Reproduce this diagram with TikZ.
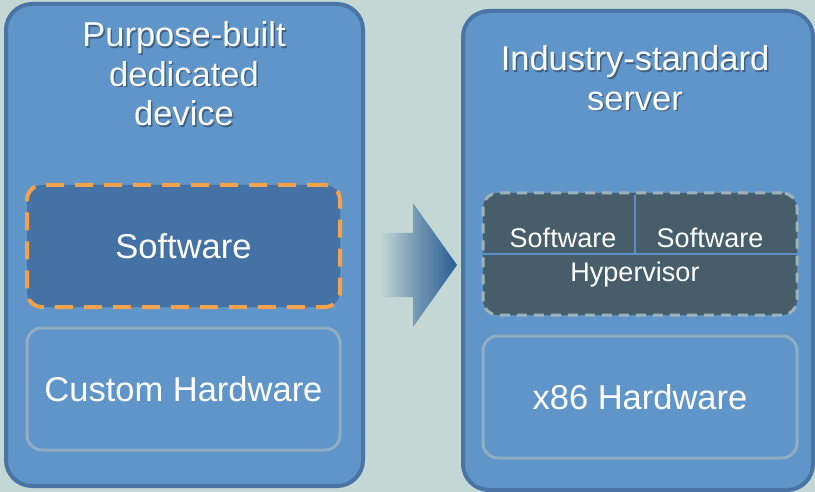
\documentclass[tikz,border=0pt]{standalone}
\usepackage{fontspec}
\setmainfont{Liberation Sans}
\usetikzlibrary{positioning}

\definecolor{bgcol}{HTML}{C3D7D4}
\definecolor{panelfill}{HTML}{6095C9}
\definecolor{panelline}{HTML}{4A74A3}
\definecolor{swfill}{HTML}{4572A4}
\definecolor{orangedash}{HTML}{F5A04A}
\definecolor{hwline}{HTML}{8FAEC3}
\definecolor{vmfill}{HTML}{475E6A}
\definecolor{vmdash}{HTML}{9EB2BC}
\definecolor{splitline}{HTML}{5A8FC8}
\definecolor{arrowdark}{HTML}{2A5D94}

\tikzset{
  panel/.style={draw=panelline, line width=4pt, fill=panelfill, rounded corners=26pt,
    inner sep=0pt},
  swbox/.style={draw=orangedash, line width=4pt, dash pattern=on 18pt off 11pt,
    fill=swfill, rounded corners=15pt, inner sep=0pt, minimum width=313pt,
    minimum height=122pt, text=white, font=\fontsize{34.5}{40}\selectfont},
  hwbox/.style={draw=hwline, line width=3pt, fill=panelfill, rounded corners=15pt,
    inner sep=0pt, minimum width=313pt, minimum height=122pt, text=white,
    font=\fontsize{34.5}{40}\selectfont},
  vmbox/.style={draw=vmdash, line width=3pt, dash pattern=on 10pt off 7pt,
    fill=vmfill, rounded corners=15pt, inner sep=0pt, minimum width=314pt,
    minimum height=122pt},
  title/.style={text=white, align=center, inner sep=0pt,
    font=\fontsize{34.5}{39.5}\selectfont},
  titleshadow/.style={title, text=black, opacity=0.35},
  small/.style={text=white, inner sep=0pt, font=\fontsize{27}{32}\selectfont},
  split/.style={draw=splitline, line width=1.6pt},
}

\begin{document}
\begin{tikzpicture}[x=1pt, y=-1pt]
  % canvas
  \fill[bgcol] (0,0) rectangle (815,492);
  \useasboundingbox (0,0) rectangle (815,492);

  % left panel: dedicated appliance
  \node[panel, minimum width=357pt, minimum height=482pt] (dev) at (184.5,245) {};
  \node[titleshadow] at (185.5,75.5) {Purpose-built\\dedicated\\device};
  \node[title] (devtitle) at (184,74) {Purpose-built\\dedicated\\device};
  \node[swbox] (devsw) at (183.5,246) {Software};
  \node[hwbox] (devhw) at (183.5,389) {Custom Hardware};

  % right panel: virtualised server
  \node[panel, minimum width=350pt, minimum height=479pt] (srv) at (638,250.5) {};
  \node[titleshadow] at (636.5,79.5) {Industry-standard\\server};
  \node[title] (srvtitle) at (635,78) {Industry-standard\\server};
  \node[vmbox] (vm) at (640,254) {};
  \coordinate (splitL) at (vm.west |- 0,254);
  \coordinate (splitR) at (vm.east |- 0,254);
  \coordinate (splitT) at (635,195);
  \coordinate (splitB) at (635,254);
  \draw[split] (splitL) -- (splitR);
  \draw[split] (splitT) -- (splitB);
  \node[small] (vm1) at (563,238) {Software};
  \node[small] (vm2) at (710,238) {Software};
  \node[small] (hyp) at (635,275) {Hypervisor};
  \node[hwbox, minimum width=314pt] (srvhw) at (640,397) {x86 Hardware};

  % migration arrow between the panels
  \shade[left color=bgcol, right color=arrowdark, middle color=arrowdark!55!bgcol]
    (380,233) -- (413,233) -- (413,203) -- (457,265) -- (413,327) -- (413,297)
    -- (380,297) -- cycle;
\end{tikzpicture}
\end{document}
